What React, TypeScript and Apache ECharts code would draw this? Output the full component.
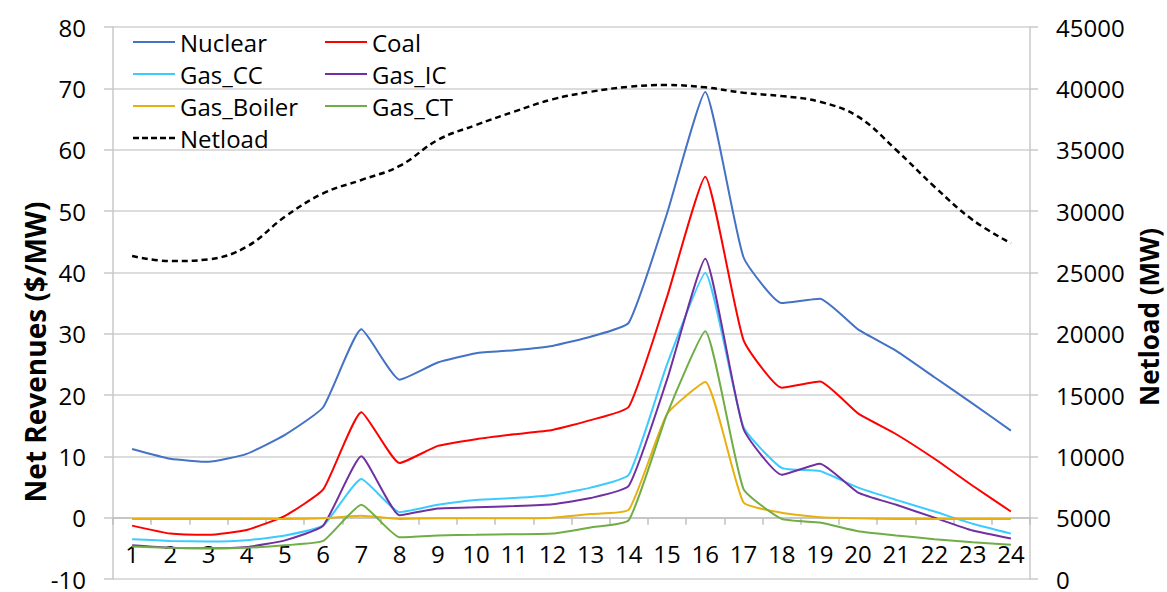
import React, { useEffect, useRef } from "react";
import * as echarts from "echarts";

const hours = ["1","2","3","4","5","6","7","8","9","10","11","12","13","14","15","16","17","18","19","20","21","22","23","24"];

const nuclear = [11.2, 9.6, 9.1, 10.4, 13.5, 18.0, 30.7, 22.5, 25.3, 26.8, 27.3, 28.0, 29.5, 31.8, 49.6, 69.4, 42.5, 35.0, 35.7, 30.7, 27.2, 22.9, 18.6, 14.2];
const coal = [-1.3, -2.6, -2.8, -2.0, 0.3, 4.6, 17.2, 8.9, 11.7, 12.8, 13.6, 14.3, 15.9, 18.1, 36.0, 55.6, 29.0, 21.2, 22.2, 17.0, 13.6, 9.6, 5.2, 1.0];
const gasCC = [-3.5, -3.8, -3.9, -3.7, -2.9, -1.3, 6.3, 0.9, 2.1, 2.9, 3.2, 3.7, 4.9, 7.0, 25.0, 39.9, 14.8, 8.1, 7.6, 4.9, 2.9, 1.0, -1.0, -2.6];
const gasIC = [-4.5, -4.9, -5.0, -4.8, -3.7, -1.3, 10.0, 0.4, 1.5, 1.7, 1.9, 2.2, 3.2, 5.2, 22.5, 42.2, 14.5, 7.0, 8.8, 4.1, 2.1, 0.0, -2.1, -3.4];
const gasBoiler = [-0.2, -0.2, -0.2, -0.2, -0.2, -0.1, 0.3, -0.2, -0.1, -0.1, -0.1, 0.0, 0.6, 1.3, 16.9, 22.1, 2.5, 0.8, 0.05, -0.1, -0.2, -0.2, -0.2, -0.2];
const gasCT = [-4.7, -4.9, -5.0, -4.9, -4.5, -3.8, 2.1, -3.2, -2.9, -2.8, -2.7, -2.6, -1.6, -0.4, 16.9, 30.4, 4.7, -0.2, -0.8, -2.2, -2.9, -3.5, -4.0, -4.4];
const netload = [26330, 25920, 26060, 27090, 29530, 31440, 32530, 33670, 35790, 37010, 38100, 39100, 39720, 40130, 40270, 40080, 39640, 39370, 38910, 37690, 34970, 31980, 29270, 27370];

const FONT = "'Open Sans', sans-serif";
const SOLID_ICON = "path://M0,0H42V2.2H0Z";
const DASH_ICON = "path://M0,0H6V2.6H0Z M9,0H15V2.6H9Z M18,0H24V2.6H18Z M27,0H33V2.6H27Z M36,0H42V2.6H36Z";

export default function App() {
  const ref = useRef<HTMLDivElement>(null);
  useEffect(() => {
    if (!ref.current) return;
    const chart = echarts.init(ref.current, null, { renderer: "svg" });
    const line = (name: string, data: number[], color: string, smooth = 0.15) => ({
      name,
      type: "line",
      data,
      smooth,
      symbol: "none",
      showSymbol: false,
      xAxisIndex: 0,
      yAxisIndex: 0,
      lineStyle: { color, width: 2 },
      itemStyle: { color },
    });
    const legendText = { fontFamily: FONT, fontSize: 24, color: "#000", lineHeight: 32 };
    const legendBase = {
      orient: "vertical",
      top: 26,
      itemWidth: 42,
      itemHeight: 3,
      itemGap: 0,
      textStyle: legendText,
      padding: 0,
    };
    chart.setOption({
      animation: false,
      textStyle: { fontFamily: FONT },
      grid: { left: 113, right: 137, top: 27, bottom: 13, containLabel: false, outerBoundsMode: "none" },
      legend: [
        {
          ...legendBase,
          left: 133,
          data: [
            { name: "Nuclear", icon: SOLID_ICON },
            { name: "Gas_CC", icon: SOLID_ICON },
            { name: "Gas_Boiler", icon: SOLID_ICON },
            { name: "Netload", icon: DASH_ICON },
          ],
        },
        {
          ...legendBase,
          left: 325,
          data: [
            { name: "Coal", icon: SOLID_ICON },
            { name: "Gas_IC", icon: SOLID_ICON },
            { name: "Gas_CT", icon: SOLID_ICON },
          ],
        },
      ],
      xAxis: [
        {
          type: "category",
          data: hours,
          boundaryGap: true,
          position: "bottom",
          axisLine: { show: false, onZero: false },
          axisTick: { show: false },
          axisLabel: { fontFamily: FONT, fontSize: 24, color: "#000", margin: -38, interval: 0 },
          splitLine: { show: false },
        },
        {
          type: "category",
          data: hours,
          boundaryGap: true,
          position: "bottom",
          axisLine: { show: true, onZero: true, onZeroAxisIndex: 0, lineStyle: { color: "#bfbfbf", width: 1.5 } },
          axisTick: { show: true, length: 7, alignWithLabel: false, interval: 0, lineStyle: { color: "#bfbfbf", width: 1.5 } },
          axisLabel: { show: false },
          splitLine: { show: false },
        },
      ],
      yAxis: [
        {
          type: "value",
          min: -10,
          max: 80,
          interval: 10,
          axisLine: { show: true, onZero: false, lineStyle: { color: "#c8c8c8", width: 1.5 } },
          axisTick: { show: true, length: 9, lineStyle: { color: "#c8c8c8", width: 1.5 } },
          axisLabel: { fontFamily: FONT, fontSize: 24, color: "#000", margin: 27, lineHeight: 18 },
          splitLine: { show: true, lineStyle: { color: "#d0d0d0", width: 1.5 } },
        },
        {
          type: "value",
          min: 0,
          max: 45000,
          interval: 5000,
          position: "right",
          axisLine: { show: true, onZero: false, lineStyle: { color: "#c8c8c8", width: 1.5 } },
          axisTick: { show: true, length: 8, lineStyle: { color: "#c8c8c8", width: 1.5 } },
          axisLabel: { fontFamily: FONT, fontSize: 24, color: "#000", margin: 26, lineHeight: 18, formatter: (v: number) => String(v) },
          splitLine: { show: false },
        },
      ],
      graphic: [
        {
          type: "text",
          x: 35,
          y: 352,
          rotation: Math.PI / 2,
          style: {
            text: "Net Revenues ($/MW)",
            fontFamily: FONT,
            fontSize: 28,
            fontWeight: "bold",
            fill: "#000",
            textAlign: "center",
            textVerticalAlign: "middle",
          },
        },
        {
          type: "text",
          x: 1149,
          y: 317,
          rotation: Math.PI / 2,
          style: {
            text: "Netload (MW)",
            fontFamily: FONT,
            fontSize: 26,
            fontWeight: "bold",
            fill: "#000",
            textAlign: "center",
            textVerticalAlign: "middle",
          },
        },
      ],
      series: [
        line("Nuclear", nuclear, "#4472C4"),
        line("Coal", coal, "#FF0000"),
        line("Gas_CC", gasCC, "#3CCBFF"),
        line("Gas_IC", gasIC, "#7030A0"),
        line("Gas_Boiler", gasBoiler, "#E8B00F"),
        line("Gas_CT", gasCT, "#70AD47"),
        {
          name: "Netload",
          type: "line",
          data: netload,
          xAxisIndex: 0,
          yAxisIndex: 1,
          smooth: 0.4,
          symbol: "none",
          showSymbol: false,
          lineStyle: { color: "#000", width: 2.5, type: [6, 4] },
          itemStyle: { color: "#000" },
        },
      ],
    });
    return () => chart.dispose();
  }, []);
  return <div ref={ref} style={{ width: 1167, height: 592, position: "absolute", left: 0, top: 0 }} />;
}
